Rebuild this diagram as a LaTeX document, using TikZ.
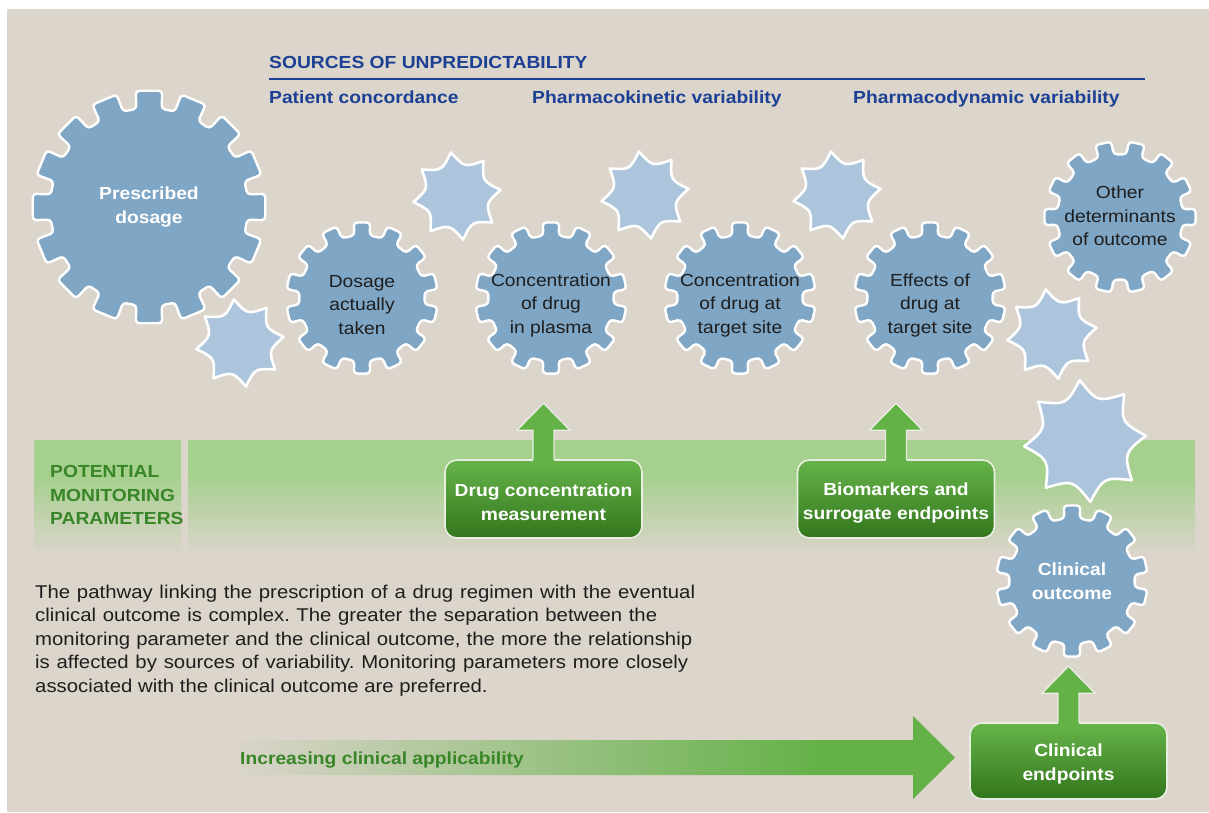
\documentclass[tikz,border=0pt]{standalone}
\usepackage{fontspec}
\setmainfont[FakeStretch=1.1]{Liberation Sans}
\frenchspacing

\definecolor{bg}{RGB}{220,213,204}
\definecolor{gearblue}{RGB}{127,166,197}
\definecolor{starblue}{RGB}{172,197,221}
\definecolor{hdrblue}{RGB}{28,64,148}
\definecolor{txtgreen}{RGB}{56,134,40}
\definecolor{bandgreen}{RGB}{166,208,142}
\definecolor{arrowgreen}{RGB}{99,177,71}
\definecolor{boxtop}{RGB}{102,180,74}
\definecolor{boxbot}{RGB}{50,118,28}
\definecolor{boxedge}{RGB}{232,238,226}
\definecolor{txtdark}{RGB}{30,30,30}

% fade-in for the long horizontal arrow (25bp..75bp spans the path)
\pgfdeclarehorizontalshading{fadein}{100bp}{color(0bp)=(bg); color(25bp)=(bg);
  color(66bp)=(arrowgreen); color(100bp)=(arrowgreen)}

% cog: centre x, centre y, root radius, tip radius, teeth, first tooth angle,
%      half angle of a tooth at the root, half angle at the tip
\newcommand\cogwheel[8]{%
  \begin{scope}[shift={(#1,#2)}]
    \draw[cog] (#6+180/#5:#3)
      \foreach \k [evaluate=\k as \a using #6+\k*360/#5] in {1,...,#5}
        { -- (\a-#7:#3) -- (\a-#8:#4) -- (\a+#8:#4) -- (\a+#7:#3) }
      -- cycle;
  \end{scope}}

% eight-pointed burst: centre x, centre y, outer radius, rotation
\newcommand\starburst[4]{%
  \begin{scope}[shift={(#1,#2)}]
    \draw[burst] (#4:#3)
      \foreach \k [evaluate=\k as \a using #4+\k*45] in {1,...,8}
        { .. controls (\a-22.5:0.67*#3) .. (\a:#3) }
      -- cycle;
  \end{scope}}

% block arrow pointing up out of the top of a box node
\newcommand\uparrowfrom[1]{%
  \fill[arrowgreen] (#1.north) ++(-10.5,3) -- ++(0,-32) -- ++(-16,0)
    -- ++(26.5,-27) -- ++(26.5,27) -- ++(-16,0) -- ++(0,32) -- cycle;
  \draw[arrowedge] (#1.north) ++(-10.5,0.5) -- ++(0,-29.5) -- ++(-16,0)
    -- ++(26.5,-27) -- ++(26.5,27) -- ++(-16,0) -- ++(0,29.5);}

\begin{document}
\begin{tikzpicture}[x=1pt,y=-1pt,
  cog/.style={fill=gearblue, draw=white, line width=2.4pt, rounded corners=3.5pt, line join=round},
  burst/.style={fill=starblue, draw=white, line width=2.6pt, line join=round},
  geartext/.style={font=\fontsize{17.5}{23.5}\selectfont, text=txtdark, align=center, inner sep=0pt},
  gearbold/.style={font=\fontsize{17.5}{23.5}\selectfont\bfseries, text=white, align=center, inner sep=0pt},
  head/.style={font=\fontsize{17.5}{21}\selectfont\bfseries, text=hdrblue, inner sep=0pt, anchor=base west},
  para/.style={font=\fontsize{18.5}{23.5}\selectfont, text=txtdark, inner sep=0pt, anchor=base west},
  greenbox/.style={rectangle, rounded corners=12pt, top color=boxtop, bottom color=boxbot,
    draw=boxedge, line width=1.6pt, minimum width=197pt, minimum height=78pt, inner sep=0pt},
  boxtext/.style={text=white, font=\fontsize{17.5}{24}\selectfont\bfseries, align=center, inner sep=0pt},
  arrowedge/.style={draw=boxedge, line width=1.3pt, line join=miter},
]
% canvas
\fill[white] (0,0) rectangle (1209,812);
\fill[bg] (7,9) rectangle (1209,812);
\useasboundingbox (0,0) rectangle (1209,812);

% header
\node[head] (srchead) at (269,68.5) {SOURCES OF UNPREDICTABILITY};
\coordinate (ruleL) at (269,79);
\coordinate (ruleR) at (1145,79);
\draw[hdrblue, line width=2.5pt] (ruleL) -- (ruleR);
\node[head] (hconc) at (269,103.5) {Patient concordance};
\node[head] (hpk) at (532,103.5) {Pharmacokinetic variability};
\node[head] (hpd) at (853,103.5) {Pharmacodynamic variability};

% monitoring band
\fill[bandgreen] (34,440) rectangle (181,476);
\shade[top color=bandgreen, bottom color=bandgreen!8!bg] (34,475.5) rectangle (181,550);
\fill[bandgreen] (188,440) rectangle (1195,476);
\shade[top color=bandgreen, bottom color=bandgreen!8!bg] (188,475.5) rectangle (1195,550);
\node[font=\fontsize{17.5}{23.5}\selectfont\bfseries, text=txtgreen, align=left,
      anchor=west, inner sep=0pt] (monitor) at (50,495) {POTENTIAL\\MONITORING\\PARAMETERS};

% applicability arrow
\shade[shading=fadein, shading angle=0]
  (228,740) -- (913,740) -- (913,716) -- (955,757.5) -- (913,799)
  -- (913,775) -- (228,775) -- cycle;
\node[font=\fontsize{17.5}{21}\selectfont\bfseries, text=txtgreen, anchor=base west,
      inner sep=0pt] (applic) at (240,764) {Increasing clinical applicability};

% explanatory paragraph
\node[para] (p1) at (35,598) {\makebox[660pt][s]{The pathway linking the prescription of a drug regimen with the eventual}};
\node[para] (p2) at (35,621.5) {\makebox[622pt][s]{clinical outcome is complex. The greater the separation between the}};
\node[para] (p3) at (35,645) {\makebox[657pt][s]{monitoring parameter and the clinical outcome, the more the relationship}};
\node[para] (p4) at (35,668.5) {\makebox[653pt][s]{is affected by sources of variability. Monitoring parameters more closely}};
\node[para] (p5) at (35,692) {associated with the clinical outcome are preferred.};

% sources of variability
\starburst{240}{343}{44}{-8}
\starburst{457}{196}{44}{-8}
\starburst{645}{195}{44}{-8}
\starburst{837}{195}{44}{-8}
\starburst{1052}{334}{45}{-8}
\starburst{1085}{441}{61}{-5}

% the chain of cogs
\cogwheel{149}{207}{99}{117}{16}{90}{7.3}{6.5}
\cogwheel{362}{298}{63}{76}{14}{90}{7}{6.2}
\cogwheel{551}{298}{63}{76}{14}{90}{7}{6.2}
\cogwheel{740}{298}{63}{76}{14}{90}{7}{6.2}
\cogwheel{930}{298}{63}{76}{14}{90}{7}{6.2}
\cogwheel{1120}{217}{63}{76}{14}{102.86}{7}{6.2}
\cogwheel{1072}{581}{63}{76}{14}{90}{7}{6.2}

\node[gearbold] (presc) at (149,207) {Prescribed\\dosage};
\node[geartext] (taken) at (362,305) {Dosage\\actually\\taken};
\node[geartext] (plasma) at (551,305) {Concentration\\of drug\\in plasma};
\node[geartext] (target) at (740,305) {Concentration\\of drug at\\target site};
\node[geartext] (effects) at (930,305) {Effects of\\drug at\\target site};
\node[geartext] (other) at (1120,216) {Other\\determinants\\of outcome};
\node[gearbold] (outcome) at (1072,581) {Clinical\\outcome};

% monitoring boxes
\node[greenbox] (drugbox) at (543.5,499) {};
\node[boxtext] (drugtxt) at (543.5,502) {Drug concentration\\measurement};
\node[greenbox] (biobox) at (896,499) {};
\node[boxtext] (biotxt) at (896,503) {Biomarkers and\\surrogate endpoints};
\node[greenbox, minimum height=76pt] (endbox) at (1068.5,761) {};
\node[boxtext] (endtxt) at (1068.5,764) {Clinical\\endpoints};
\uparrowfrom{drugbox}
\uparrowfrom{biobox}
\uparrowfrom{endbox}
\end{tikzpicture}
\end{document}
